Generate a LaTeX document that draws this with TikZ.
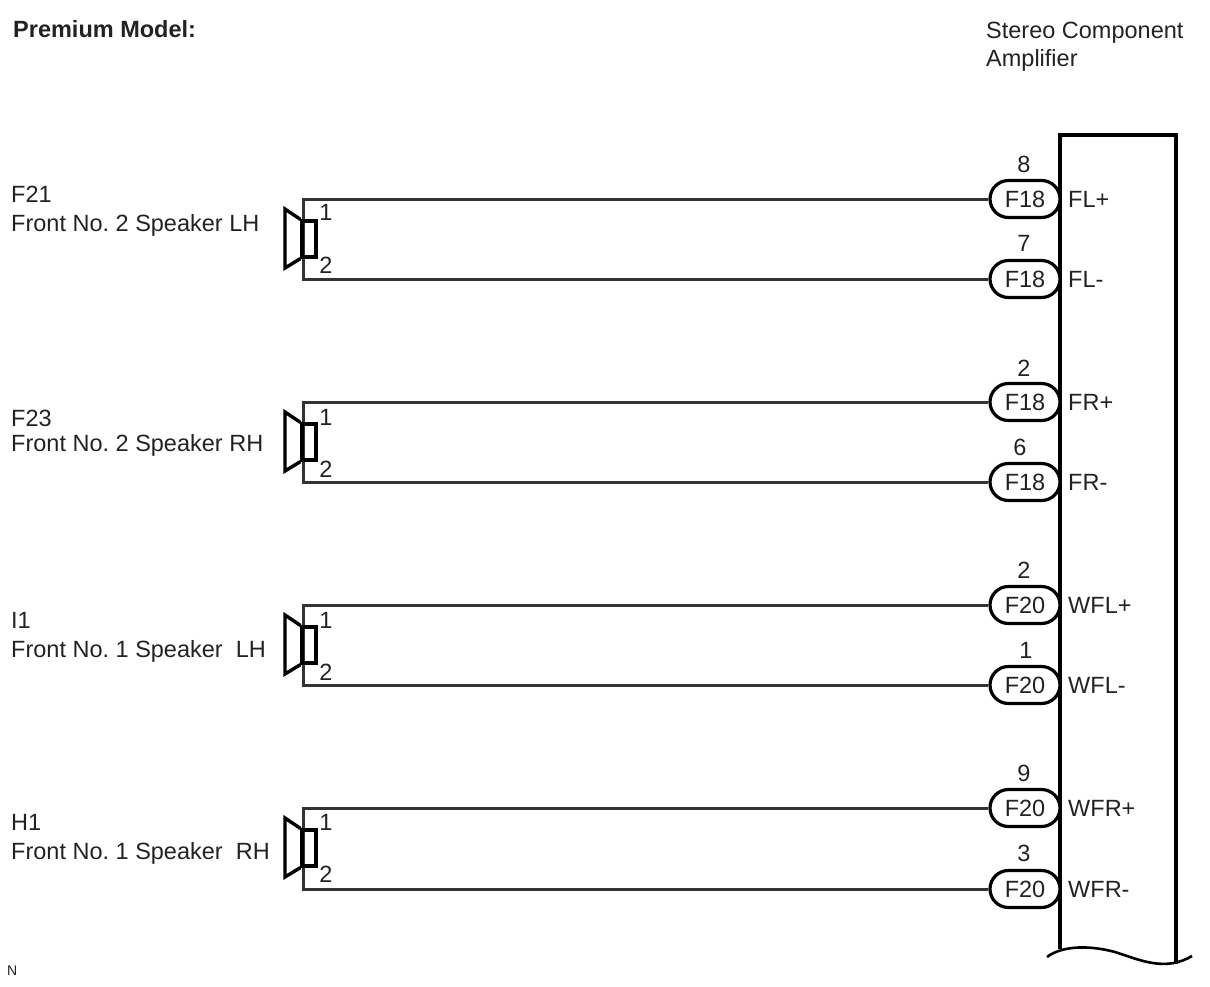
\documentclass[tikz,border=0pt]{standalone}
\usepackage{fontspec}
\setmainfont{Liberation Sans}
\usetikzlibrary{shapes.misc}
\definecolor{inkc}{HTML}{222222}
\tikzset{
  lbl/.style={inner sep=0pt,text=inkc,font=\fontsize{23.5}{23.5}\selectfont\frenchspacing},
  lbll/.style={lbl,anchor=west},
  pill/.style={rounded rectangle,draw=black,line width=3.2pt,fill=white,minimum width=70pt,minimum height=37pt,inner sep=0pt,text=inkc,font=\fontsize{23.5}{23.5}\selectfont},
  wire/.style={draw=black!80,line width=3pt},
  spkbox/.style={draw=black,line width=3.2pt,minimum width=14pt,minimum height=36pt,inner sep=0pt},
  cone/.style={draw=black,line width=3.4pt,line join=miter},
  ampl/.style={draw=black,line width=3.8pt}
}
\begin{document}
\begin{tikzpicture}[x=1pt,y=-1pt]
\useasboundingbox (0,0) rectangle (1210,986);
\node [lbll,font=\fontsize{23.5}{23.5}\selectfont\bfseries] (title) at (13,29) {Premium Model:};
\node [lbll] (ampa) at (986,33) {Stereo Component};
\node [lbll] (ampb) at (986,60) {Amplifier};
\node [lbll,font=\fontsize{14}{14}\selectfont] (foot) at (7,971) {N};
% amplifier box
\coordinate (bl) at (1060,949);
\coordinate (br) at (1176,964);
\draw [ampl] (bl) -- (1060,135) -- (1176,135) -- (br);
\draw [draw=black,line width=2.6pt] (1047,957) .. controls (1060,947) and (1085,944) .. (1115,952) .. controls (1140,960) and (1165,972) .. (1192,956);
% front no. 2 LH
\coordinate (wa) at (303,199);
\coordinate (wb) at (303,279);
\node [pill] (pa) at (1025,199) {F18};
\node [pill] (pb) at (1025,279) {F18};
\draw [wire] (pa.west) -- (wa) -- (wb) -- (pb.west);
\node [spkbox] (sa) at (309,239) {};
\draw [cone] (sa.north west) -- (285,209) -- (285,268) -- (sa.south west);
\node [lbll] (na) at (11,194) {F21};
\node [lbll] (ta) at (11,225) {Front No. 2 Speaker LH};
\node [lbl] at (326,212) {1};
\node [lbl] at (326,265) {2};
\node [lbl] at (1024,164) {8};
\node [lbl] at (1024,243) {7};
\node [lbll] at (1068,199) {FL+};
\node [lbll] at (1068,279) {FL-};
% front no. 2 RH
\coordinate (wc) at (303,402);
\coordinate (wd) at (303,482);
\node [pill] (pc) at (1025,402) {F18};
\node [pill] (pd) at (1025,482) {F18};
\draw [wire] (pc.west) -- (wc) -- (wd) -- (pd.west);
\node [spkbox] (sb) at (309,442) {};
\draw [cone] (sb.north west) -- (285,412) -- (285,471) -- (sb.south west);
\node [lbll] (nb) at (11,418) {F23};
\node [lbll] (tb) at (11,445) {Front No. 2 Speaker RH};
\node [lbl] at (326,417) {1};
\node [lbl] at (326,469) {2};
\node [lbl] at (1024,368) {2};
\node [lbl] at (1020,447) {6};
\node [lbll] at (1068,402) {FR+};
\node [lbll] at (1068,482) {FR-};
% front no. 1 LH
\coordinate (we) at (303,605);
\coordinate (wf) at (303,685);
\node [pill] (pe) at (1025,605) {F20};
\node [pill] (pf) at (1025,685) {F20};
\draw [wire] (pe.west) -- (we) -- (wf) -- (pf.west);
\node [spkbox] (sc) at (309,645) {};
\draw [cone] (sc.north west) -- (285,615) -- (285,674) -- (sc.south west);
\node [lbll] (nc) at (11,620) {I1};
\node [lbll] (tc) at (11,651) {Front No. 1 Speaker\ \ LH};
\node [lbl] at (326,620) {1};
\node [lbl] at (326,672) {2};
\node [lbl] at (1024,570) {2};
\node [lbl] at (1026,650) {1};
\node [lbll] at (1068,605) {WFL+};
\node [lbll] at (1068,685) {WFL-};
% front no. 1 RH
\coordinate (wg) at (303,808);
\coordinate (wh) at (303,889);
\node [pill] (pg) at (1025,808) {F20};
\node [pill] (ph) at (1025,889) {F20};
\draw [wire] (pg.west) -- (wg) -- (wh) -- (ph.west);
\node [spkbox] (sd) at (309,848) {};
\draw [cone] (sd.north west) -- (285,818) -- (285,877) -- (sd.south west);
\node [lbll] (nd) at (11,822) {H1};
\node [lbll] (td) at (11,853) {Front No. 1 Speaker\ \ RH};
\node [lbl] at (326,822) {1};
\node [lbl] at (326,874) {2};
\node [lbl] at (1024,773) {9};
\node [lbl] at (1024,853) {3};
\node [lbll] at (1068,808) {WFR+};
\node [lbll] at (1068,889) {WFR-};
\end{tikzpicture}
\end{document}
